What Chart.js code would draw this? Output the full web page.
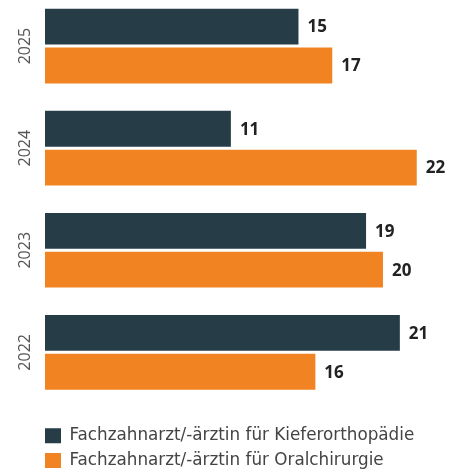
<!DOCTYPE html>
<html>
<head>
<meta charset="utf-8">
<script src="https://cdn.jsdelivr.net/npm/chart.js@4/dist/chart.umd.min.js"></script>
<style>
  html, body { margin: 0; padding: 0; background: #fff; overflow: hidden; }
  #wrap { position: absolute; left: 0; top: -5px; width: 459px; height: 484px; }
</style>
</head>
<body>
<div id="wrap"><canvas id="c"></canvas></div>
<script>
const years = ['2025', '2024', '2023', '2022'];
const seriesNames = ['Fachzahnarzt/-ärztin für Kieferorthopädie', 'Fachzahnarzt/-ärztin für Oralchirurgie'];
const kieferValues = [15, 11, 19, 21];
const oralValues = [17, 22, 20, 16];
const colors = ['#263d47', '#f28322'];
const FONT = "'Open Sans', 'Noto Sans', sans-serif";
const LEGEND_FONT = "'DejaVu Sans', sans-serif";

const valueLabels = {
  id: 'valueLabels',
  afterDatasetsDraw(chart) {
    const ctx = chart.ctx;
    ctx.save();
    ctx.font = 'bold 17px ' + FONT;
    ctx.fillStyle = '#222222';
    ctx.textAlign = 'left';
    ctx.textBaseline = 'middle';
    chart.data.datasets.forEach((ds, i) => {
      const meta = chart.getDatasetMeta(i);
      meta.data.forEach((el, j) => {
        ctx.fillText(String(ds.data[j]), el.x + 9, el.y + 1);
      });
    });
    ctx.restore();
  }
};

// rotated category labels placed at the y scale's tick pixels
const rotatedTicks = {
  id: 'rotatedTicks',
  afterDraw(chart) {
    const scale = chart.scales.y;
    const ctx = chart.ctx;
    ctx.save();
    ctx.font = '16px ' + FONT;
    ctx.fillStyle = '#555555';
    ctx.textAlign = 'center';
    ctx.textBaseline = 'middle';
    scale.ticks.forEach((t, i) => {
      const y = scale.getPixelForTick(i);
      ctx.save();
      ctx.translate(scale.right - 20, y);
      ctx.rotate(-Math.PI / 2);
      ctx.fillText(years[i], 0, 0);
      ctx.restore();
    });
    ctx.restore();
  }
};

const legendShift = {
  id: 'legendShift',
  afterLayout(chart) {
    if (chart.legend) { chart.legend.left -= 8; chart.legend.right -= 8; }
  }
};

new Chart(document.getElementById('c'), {
  type: 'bar',
  data: {
    labels: years,
    datasets: [
      { label: seriesNames[0], data: kieferValues, backgroundColor: colors[0], categoryPercentage: 0.761, barPercentage: 0.923 },
      { label: seriesNames[1], data: oralValues, backgroundColor: colors[1], categoryPercentage: 0.761, barPercentage: 0.923 }
    ]
  },
  options: {
    indexAxis: 'y',
    responsive: true,
    maintainAspectRatio: false,
    animation: false,
    layout: { padding: { top: 0, right: 0, bottom: 0, left: 0 } },
    scales: {
      x: {
        min: 0, max: 24.5,
        grid: { display: false }, border: { display: false },
        ticks: { display: false },
        afterFit(s) { s.height = 16; }
      },
      y: {
        grid: { display: false }, border: { display: false },
        ticks: { display: false },
        afterFit(s) { s.width = 45; }
      }
    },
    plugins: {
      tooltip: { enabled: false },
      legend: {
        position: 'bottom',
        align: 'start',
        fullSize: false,
        labels: {
          boxWidth: 16, boxHeight: 15,
          padding: 8,
          color: '#444444',
          font: { family: LEGEND_FONT, size: 16.8 }
        }
      }
    }
  },
  plugins: [valueLabels, rotatedTicks, legendShift]
});
</script>
</body>
</html>
